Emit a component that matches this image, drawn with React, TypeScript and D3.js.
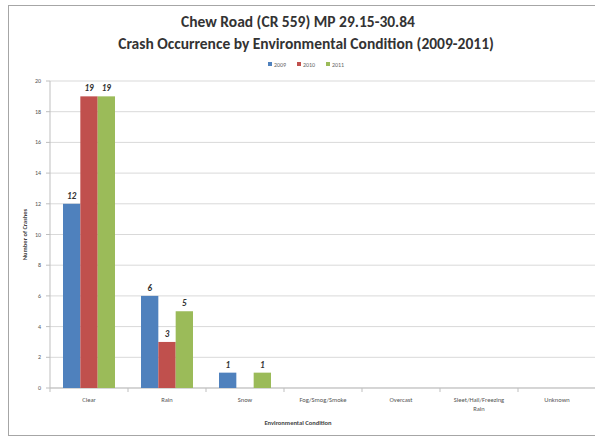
import React from 'react';
import * as d3 from 'd3';

const categories = ['Clear', 'Rain', 'Snow', 'Fog/Smog/Smoke', 'Overcast', 'Sleet/Hail/Freezing Rain', 'Unknown'];
const years = ['2009', '2010', '2011'];
const crashes2009 = [12, 6, 1, 0, 0, 0, 0];
const crashes2010 = [19, 3, 0, 0, 0, 0, 0];
const crashes2011 = [19, 5, 1, 0, 0, 0, 0];
const yTicks = [0, 2, 4, 6, 8, 10, 12, 14, 16, 18, 20];

const colors = ['#4F81BD', '#C0504D', '#9BBB59'];
const seriesValues = [crashes2009, crashes2010, crashes2011];

const W = 595;
const H = 438;
const plotLeft = 50;
const plotRight = 596;
const plotTop = 81;
const plotBottom = 388;
const font = 'Calibri, Carlito, "Open Sans", sans-serif';

export default function App() {
  const x = d3.scaleBand().domain(categories).range([plotLeft, plotRight]);
  const y = d3.scaleLinear().domain([0, 20]).range([plotBottom, plotTop]);
  const gap = 1.5;
  const barW = x.bandwidth() / (3 + gap);

  // excel wraps the long label onto two lines
  const wrap = (s: string) => (s === 'Sleet/Hail/Freezing Rain' ? ['Sleet/Hail/Freezing', 'Rain'] : [s]);

  return (
    <svg width={W} height={H} style={{ position: 'absolute', left: 0, top: 0, fontFamily: font }}>
      <rect x={0} y={0} width={W} height={H} fill="#fff" />
      <rect x={8.5} y={5.5} width={600} height={430} fill="none" stroke="#a6a6a6" />
      <text x={298} y={27} textAnchor="middle" fontSize={15.5} fontWeight="bold" fill="#333">Chew Road (CR 559) MP 29.15-30.84</text>
      <text x={306} y={49} textAnchor="middle" fontSize={15.5} fontWeight="bold" fill="#333">Crash Occurrence by Environmental Condition (2009-2011)</text>
      {years.map((yr, i) => (
        <g key={yr} transform={`translate(${268 + i * 29},65)`}>
          <rect x={0} y={-3} width={4} height={4} fill={colors[i]} />
          <text x={6} y={1.5} fontSize={6} fill="#666">{yr}</text>
        </g>
      ))}
      {yTicks.map(t => (
        <g key={t}>
          <line x1={plotLeft} x2={plotRight} y1={y(t)} y2={y(t)} stroke="#d9d9d9" />
          <line x1={plotLeft - 4} x2={plotLeft} y1={y(t)} y2={y(t)} stroke="#bfbfbf" />
          <text x={plotLeft - 9} y={y(t) + 2} textAnchor="end" fontSize={6} fill="#555">{t}</text>
        </g>
      ))}
      <line x1={plotLeft} x2={plotLeft} y1={y(20)} y2={plotBottom} stroke="#bfbfbf" />
      <line x1={plotLeft} x2={plotRight} y1={plotBottom} y2={plotBottom} stroke="#bfbfbf" />
      {categories.map((c, ci) => (
        <g key={c}>
          <line x1={x(c) as number} x2={x(c) as number} y1={plotBottom} y2={plotBottom + 4} stroke="#bfbfbf" />
          {wrap(c).map((ln, li) => (
            <text key={li} x={(x(c) as number) + x.bandwidth() / 2} y={plotBottom + 14 + li * 9} textAnchor="middle" fontSize={6.5} fill="#555">{ln}</text>
          ))}
          {seriesValues.map((vals, si) => {
            const v = vals[ci];
            if (!v) return null;
            const bx = (x(c) as number) + (x.bandwidth() - 3 * barW) / 2 + si * barW;
            return (
              <g key={si}>
                <rect x={bx} y={y(v)} width={barW} height={plotBottom - y(v)} fill={colors[si]} />
                <text x={bx + barW / 2} y={y(v) - 5} textAnchor="middle" fontSize={9} fontWeight="bold" fontStyle="italic" fill="#333">{v}</text>
              </g>
            );
          })}
        </g>
      ))}
      <text transform={`translate(27,${(y(20) + plotBottom) / 2}) rotate(-90)`} textAnchor="middle" fontSize={6.5} fontWeight="bold" fill="#444">Number of Crashes</text>
      <text x={298} y={425} textAnchor="middle" fontSize={6.5} fontWeight="bold" fill="#444">Environmental Condition</text>
    </svg>
  );
}
